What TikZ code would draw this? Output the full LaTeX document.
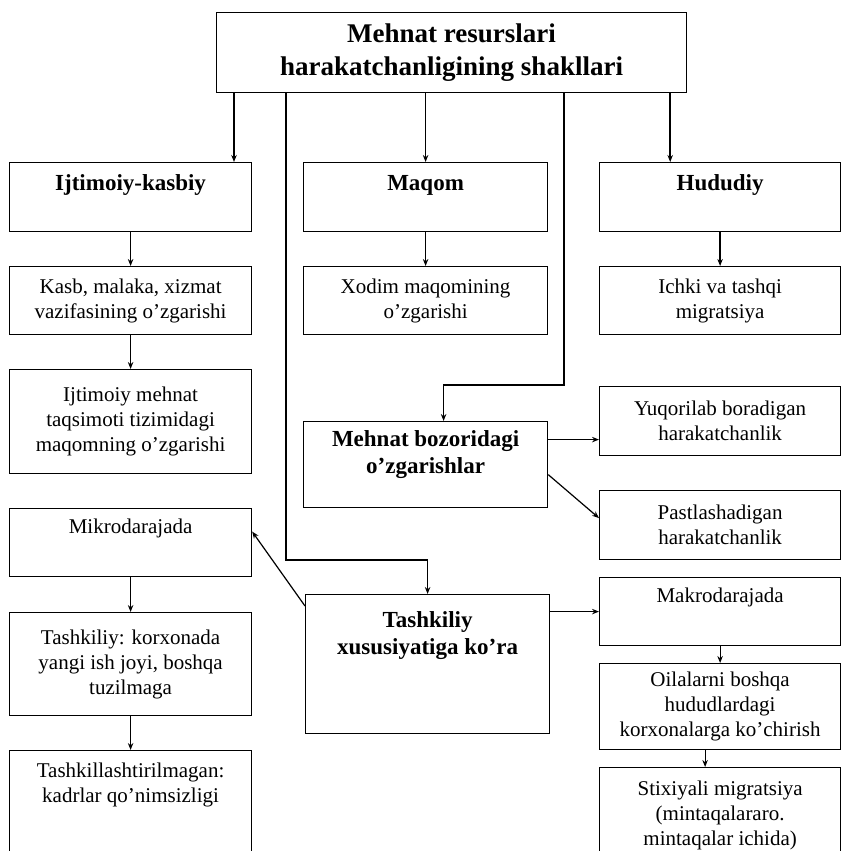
\documentclass[tikz,border=0pt]{standalone}
\usepackage{fontspec}
\setmainfont{Liberation Serif}
\usetikzlibrary{arrows.meta,calc}
\tikzset{
  box/.style={draw=black,line width=1.2pt,anchor=north west,inner sep=0pt,align=center,font=\fontsize{21}{25}\selectfont},
  head/.style={box,font=\fontsize{23}{27}\selectfont\bfseries},
  lcol/.style={minimum width=242pt},
  mcol/.style={minimum width=244pt},
  rcol/.style={minimum width=241pt},
  arr/.style={-{Stealth[length=7pt,width=5.5pt]},line width=1.2pt}
}
\begin{document}
\begin{tikzpicture}[x=1pt,y=-1pt]
  \clip (0,0) rectangle (842,851);
  \fill[white] (0,0) rectangle (842,851);
  % top
  \node[box,minimum width=470pt,minimum height=80pt,font=\fontsize{27}{33}\selectfont\bfseries] (top) at (216,12) {Mehnat resurslari\\harakatchanligining shakllari};
  % first row
  \node[head,lcol,minimum height=69pt] (ijt) at (9,162) {Ijtimoiy-kasbiy\\[-6pt] \strut};
  \node[head,mcol,minimum height=69pt] (maqom) at (303,162) {Maqom\\[-6pt] \strut};
  \node[head,rcol,minimum height=69pt] (hud) at (599,162) {Hududiy\\[-6pt] \strut};
  % second row
  \node[box,lcol,minimum height=68pt] (kasb) at (9,266) {Kasb, malaka, xizmat\\vazifasining o’zgarishi};
  \node[box,mcol,minimum height=68pt] (xodim) at (303,266) {Xodim maqomining\\o’zgarishi};
  \node[box,rcol,minimum height=68pt] (ichki) at (599,266) {Ichki va tashqi\\migratsiya};
  % left column
  \node[box,lcol,minimum height=104pt] (taqsim) at (9,369) {Ijtimoiy mehnat\\taqsimoti tizimidagi\\maqomning o’zgarishi};
  \node[box,lcol,minimum height=68pt] (micro) at (9,508) {Mikrodarajada\\ \strut};
  \node[box,lcol,minimum height=103pt] (korx) at (9,612) {Tashkiliy: korxonada\\yangi ish joyi, boshqa\\tuzilmaga};
  \node[box,lcol,minimum height=122pt] (noorg) at (9,750) {Tashkillashtirilmagan:\\kadrlar qo’nimsizligi\\ \strut\\ \strut};
  % middle column
  \node[head,mcol,minimum height=86pt] (market) at (303,421) {Mehnat bozoridagi\\o’zgarishlar\\[-10pt] \strut};
  \node[head,mcol,minimum height=139pt] (org) at (305,594) {Tashkiliy\\xususiyatiga ko’ra\\ \strut\\ \strut};
  % right column
  \node[box,rcol,minimum height=69pt] (up) at (599,386) {Yuqorilab boradigan\\harakatchanlik};
  \node[box,rcol,minimum height=69pt] (down) at (599,490) {Pastlashadigan\\harakatchanlik};
  \node[box,rcol,minimum height=68pt] (macro) at (599,577) {Makrodarajada\\ \strut};
  \node[box,rcol,minimum height=86pt] (oila) at (599,663) {Oilalarni boshqa\\hududlardagi\\korxonalarga ko’chirish};
  \node[box,rcol,minimum height=96pt] (stix) at (599,767) {Stixiyali migratsiya\\(mintaqalararo.\\mintaqalar ichida)};

  \coordinate (t1) at ([xshift=18pt]top.south west);
  \coordinate (t2) at ([xshift=-17pt]top.south east);
  \coordinate (bendL) at (286,560);
  \coordinate (bendR) at (564,385);
  \coordinate (m1) at ([xshift=18pt]market.north);
  \coordinate (o1) at ([xshift=-15pt]oila.south);

  \draw[arr,line width=1.6pt] (t1) -- (t1 |- ijt.north);
  \draw[arr] (top.south -| maqom.north) -- (maqom.north);
  \draw[arr,line width=1.6pt] (t2) -- (t2 |- hud.north);
  \draw[arr] (top.south -| bendL) -- (bendL) -| (org.north);
  \draw[arr] (top.south -| bendR) -- (bendR) -| (m1);
  \draw[arr] (ijt) -- (kasb);
  \draw[arr] (kasb) -- (taqsim);
  \draw[arr] (maqom) -- (xodim);
  \draw[arr,line width=1.6pt] (hud) -- (ichki);
  \draw[arr] ([yshift=25pt]market.east) -- ([yshift=25pt]market.east -| up.west);
  \draw[arr] ([yshift=-10pt]market.east) -- ([yshift=7pt]down.west);
  \draw[arr] ([yshift=-12pt]org.north west) -- ([yshift=11pt]micro.east);
  \draw[arr] (micro) -- (korx);
  \draw[arr] (korx) -- (noorg);
  \draw[arr,line width=1.6pt] (org.east |- macro.west) -- (macro.west);
  \draw[arr] (macro) -- (oila);
  \draw[arr] (o1) -- (o1 |- stix.north);
\end{tikzpicture}
\end{document}
